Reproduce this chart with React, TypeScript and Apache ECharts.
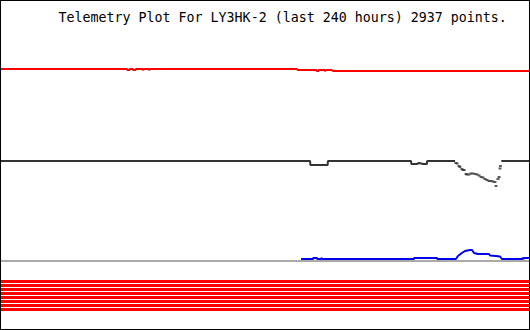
import React, { useEffect, useRef } from "react";
import * as echarts from "echarts";

// x: hours since start of the 240-hour window; y: plot row level (top = 1, bottom = 329)
const titleText = "Telemetry Plot For LY3HK-2 (last 240 hours) 2937 points.";

const redSeries: number[][] = [
  [0, 69], [57.3, 69], [57.4, 70], [58.4, 70], [58.6, 69], [60.0, 69], [60.1, 70],
  [61.0, 70], [61.4, 69], [64.3, 69], [64.5, 70], [65.0, 69], [67.0, 69], [67.3, 70],
  [67.8, 69], [134.5, 69], [135.0, 70], [143.4, 70], [143.6, 71], [144.3, 71],
  [144.5, 70], [147.1, 70], [147.3, 71], [147.9, 70], [150.3, 70], [150.9, 71], [240, 71],
];

const blackSeriesA: number[][] = [
  [0, 161], [140.5, 161], [140.6, 165], [148.5, 165], [148.6, 161], [186.4, 161],
  [186.5, 164], [189, 164], [190, 163], [192, 164], [193.6, 164], [193.7, 161],
  [206.4, 161],
];

const blackDots: number[][] = [
  [206.8, 163], [207.3, 163.5], [208.2, 166], [208.6, 167], [209.5, 169], [210.0, 170],
  [210.5, 170], [211.4, 174], [211.8, 174.5], [212.7, 174.5], [213.6, 173.5],
  [214.5, 173.5], [215.5, 174], [216.4, 174.5], [217.3, 175.5], [218.2, 177],
  [219.1, 177.5], [220.0, 179], [220.9, 180], [221.8, 181], [222.7, 181], [223.6, 181.5],
  [224.5, 182], [225.0, 186], [225.9, 179], [226.4, 177], [226.8, 168.5], [227.0, 166],
];

const blackSeriesB: number[][] = [[227.4, 161], [240, 161]];

const greySeries: number[][] = [[0, 261], [240, 261]];

const blueSeries: number[][] = [
  [136.4, 259], [141.8, 259], [142.0, 258], [143.6, 258], [143.8, 259], [145.5, 259],
  [145.6, 258], [146.0, 259], [187.7, 259], [187.8, 258], [198.2, 258], [198.3, 259],
  [206.8, 259], [207.7, 256], [208.6, 254.5], [209.5, 253], [210.9, 251], [213.2, 250],
  [214.1, 250], [215.0, 253], [216.8, 254], [221.8, 254], [222.3, 255.5], [225.0, 256],
  [226.8, 256.5], [227.7, 259], [236.8, 259], [237.0, 258], [237.5, 259], [237.7, 258],
  [240, 258],
];

const stripeLevels: number[] = [281.5, 285.5, 289.5, 293.5, 297.5, 301.5, 305.5, 309.5];

export default function App() {
  const ref = useRef<HTMLDivElement>(null);
  useEffect(() => {
    if (!ref.current) return;
    const chart = echarts.init(ref.current, undefined, { renderer: "svg" });
    const lineBase = {
      type: "line",
      symbol: "none",
      silent: true,
      animation: false,
    };
    const series: any[] = [
      { ...lineBase, data: redSeries, lineStyle: { color: "#ff0000", width: 2 } },
      { ...lineBase, data: blackSeriesA, lineStyle: { color: "#333333", width: 2 } },
      {
        type: "scatter",
        data: blackDots,
        symbol: "rect",
        symbolSize: [3, 2],
        itemStyle: { color: "#333333" },
        silent: true,
        animation: false,
      },
      { ...lineBase, data: blackSeriesB, lineStyle: { color: "#333333", width: 2 } },
      { ...lineBase, data: greySeries, lineStyle: { color: "#aaaaaa", width: 2 } },
      { ...lineBase, data: blueSeries, lineStyle: { color: "#0000ee", width: 2 } },
      ...stripeLevels.map((lv) => ({
        ...lineBase,
        data: [[0, lv], [240, lv]],
        lineStyle: { color: "#ff0000", width: 3 },
      })),
    ];
    chart.setOption({
      animation: false,
      backgroundColor: "#ffffff",
      grid: { left: 0, right: 0, top: 0, bottom: 0 },
      xAxis: {
        type: "value",
        min: 0,
        max: 240,
        show: false,
        splitLine: { show: false },
      },
      yAxis: {
        type: "value",
        min: 1,
        max: 329,
        inverse: true,
        show: false,
        splitLine: { show: false },
      },
      graphic: [
        {
          type: "text",
          x: 57.5,
          y: 16.5,
          style: {
            text: titleText,
            font: "13.3px 'DejaVu Sans Mono'",
            fill: "#000000",
            verticalAlign: "middle",
            align: "left",
          },
        },
      ],
      series,
    });
    return () => chart.dispose();
  }, []);
  return (
    <div
      style={{
        position: "fixed",
        left: 0,
        top: 0,
        width: 530,
        height: 330,
        boxSizing: "border-box",
        border: "1px solid #000",
        background: "#fff",
      }}
    >
      <div ref={ref} style={{ width: 528, height: 328 }} />
    </div>
  );
}
